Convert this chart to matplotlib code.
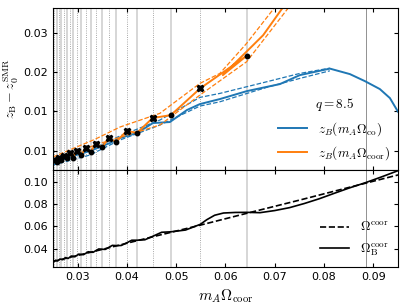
import numpy as np
import matplotlib
matplotlib.use("Agg")
import matplotlib.pyplot as plt
from matplotlib.ticker import FixedLocator, FixedFormatter

plt.rcParams['mathtext.fontset'] = 'cm'
plt.rcParams['font.size'] = 8

# extrema of z_B (x markers at maxima, dots at minima)
max_x = [0.02525, 0.02615, 0.02728, 0.02838, 0.02980, 0.03168, 0.03371, 0.03629, 0.03994, 0.04521, 0.05487]
max_z = [0.00571, 0.00609, 0.00653, 0.00698, 0.00748, 0.00805, 0.00882, 0.00985, 0.01124, 0.01372, 0.01939]
min_x = [0.02574, 0.02667, 0.02777, 0.02905, 0.03073, 0.03264, 0.03493, 0.03783, 0.04209, 0.04893, 0.06428]
min_z = [0.00532, 0.00571, 0.00603, 0.00609, 0.00666, 0.00729, 0.00813, 0.00920, 0.01092, 0.01429, 0.02561]
special_x = 0.0884

# orange solid beyond the markers
coor_tail_x = [0.05947, 0.06765, 0.07150]
coor_tail_z = [0.02193, 0.02956, 0.03466]
coor_up_x = [0.0250, 0.03351, 0.03858, 0.04669, 0.05481, 0.05886, 0.06428, 0.06982]
coor_up_z = [0.00628, 0.00966, 0.01200, 0.01462, 0.02034, 0.02225, 0.02798, 0.03466]
coor_lo_x = [0.0250, 0.03351, 0.04669, 0.05481, 0.06428, 0.07266]
coor_lo_z = [0.00513, 0.00857, 0.01239, 0.01811, 0.02447, 0.03466]

co_x = [0.0250, 0.02844, 0.03249, 0.03655, 0.03858, 0.04203, 0.04528, 0.04872, 0.05217, 0.05481,
        0.05886, 0.06434, 0.07103, 0.07509, 0.08117, 0.08523, 0.08827, 0.09131, 0.09335, 0.0950]
co_z = [0.00513, 0.00628, 0.00742, 0.00895, 0.00990, 0.01086, 0.01277, 0.01296, 0.01525, 0.01639,
        0.01735, 0.01887, 0.02021, 0.02193, 0.02317, 0.02212, 0.02078, 0.01926, 0.01754, 0.01492]
co_up_x = [0.0250, 0.03249, 0.03858, 0.04669, 0.05481, 0.05886, 0.06834, 0.07509, 0.08117]
co_up_z = [0.00570, 0.00762, 0.01029, 0.01334, 0.01767, 0.01843, 0.02065, 0.02225, 0.02326]
co_lo_x = [0.0250, 0.03249, 0.03858, 0.04669, 0.05481, 0.05886, 0.06834, 0.07509, 0.08117]
co_lo_z = [0.00475, 0.00666, 0.00952, 0.01239, 0.01601, 0.01683, 0.01958, 0.02130, 0.02275]

# bottom panel
om_x = [0.025, 0.035, 0.045, 0.055, 0.065, 0.075, 0.085, 0.095]
om_y = [0.0287, 0.0395, 0.0505, 0.0613, 0.0725, 0.0835, 0.0948, 0.1060]
omb_x = [0.0250, 0.02515, 0.0253, 0.0255, 0.0257, 0.02595, 0.0262, 0.02645, 0.0267, 0.0270, 0.0273,
         0.02755, 0.0278, 0.0281, 0.0284, 0.02875, 0.0291, 0.02945, 0.0298, 0.03025, 0.0307,
         0.0312, 0.0317, 0.03215, 0.0326, 0.03315, 0.0337, 0.0343, 0.0349, 0.0356, 0.0363,
         0.03705, 0.0378, 0.03885, 0.0399, 0.0410, 0.0421, 0.04365, 0.0452, 0.04705, 0.0489,
         0.0519, 0.0549, 0.0562, 0.0578, 0.0596, 0.0620, 0.0643, 0.0670, 0.0700, 0.0730,
         0.0760, 0.0790, 0.0820, 0.0850, 0.0884, 0.0915, 0.0950]
omb_y = [0.0289, 0.0284, 0.0290, 0.0298, 0.0295, 0.0292, 0.0300, 0.0309, 0.0306, 0.0303, 0.0313,
         0.0322, 0.0318, 0.0314, 0.0325, 0.0336, 0.0333, 0.0329, 0.0340, 0.0353, 0.0350,
         0.0348, 0.0361, 0.0374, 0.0371, 0.0369, 0.0384, 0.0399, 0.0397, 0.0395, 0.0412,
         0.0431, 0.0429, 0.0430, 0.0452, 0.0477, 0.0477, 0.0481, 0.0511, 0.0548, 0.0552,
         0.0568, 0.0619, 0.0660, 0.0700, 0.0720, 0.0725, 0.0726, 0.0723, 0.0742, 0.0768,
         0.0805, 0.0847, 0.0895, 0.0942, 0.0991, 0.1040, 0.1098]

top_ticks = [0.0075, 0.015, 0.0225, 0.03]
top_labels = ['0.01', '0.01', '0.02', '0.03']

blue = '#1f77b4'
orange = '#ff7f0e'

fig = plt.figure(figsize=(4.07, 3.05), dpi=100)
gs = fig.add_gridspec(2, 1, height_ratios=[162, 97], hspace=0)
ax1 = fig.add_subplot(gs[0])
ax2 = fig.add_subplot(gs[1], sharex=ax1)
fig.subplots_adjust(left=0.130, right=0.978, top=0.973, bottom=0.125)

for ax in (ax1, ax2):
    for x in min_x:
        ax.axvline(x, color='0.8', lw=1.1, zorder=0)
    for x in max_x:
        ax.axvline(x, color='0.55', lw=0.6, ls=':', zorder=0)
    ax.axvline(special_x, color='0.5', lw=0.6, zorder=0)
    ax.tick_params(direction='in', top=True, right=True, labelsize=8, length=3)

# top panel
ax1.plot(co_up_x, co_up_z, ls='--', color=blue, lw=0.9)
ax1.plot(co_lo_x, co_lo_z, ls='--', color=blue, lw=0.9)
ax1.plot(co_x, co_z, color=blue, lw=1.4, label=r'$z_B(m_A\Omega_{\rm co})$')

ext = sorted(zip(max_x + min_x, max_z + min_z))
ox = [p[0] for p in ext] + coor_tail_x
oz = [p[1] for p in ext] + coor_tail_z
ax1.plot(coor_up_x, coor_up_z, ls='--', color=orange, lw=0.9)
ax1.plot(coor_lo_x, coor_lo_z, ls='--', color=orange, lw=0.9)
ax1.plot(ox, oz, color=orange, lw=1.4, label=r'$z_B(m_A\Omega_{\rm coor})$')
ax1.plot(max_x, max_z, 'X', color='k', ms=4.5, ls='none', zorder=5)
ax1.plot(min_x, min_z, 'o', color='k', ms=3.2, ls='none', zorder=5)

ax1.set_ylim(0.0038, 0.0347)
ax1.yaxis.set_major_locator(FixedLocator(top_ticks))
ax1.yaxis.set_major_formatter(FixedFormatter(top_labels))
ax1.set_ylabel(r'$z_{\rm B} - z_0^{\rm SMR}$', fontsize=10)
ax1.yaxis.set_label_coords(-0.092, 0.5)
ax1.tick_params(labelbottom=False)
leg = ax1.legend(loc='lower right', frameon=False, title=r'$q = 8.5$', fontsize=9.5,
                 title_fontsize=9.5, handlelength=2.2, borderaxespad=0.2)

# bottom panel
ax2.plot(om_x, om_y, ls='--', color='k', lw=1.2, label=r'$\Omega^{\rm coor}$')
ax2.plot(omb_x, omb_y, color='k', lw=1.2, label=r'$\Omega_{\rm B}^{\rm coor}$')
ax2.set_ylim(0.0239, 0.1104)
ax2.set_yticks([0.04, 0.06, 0.08, 0.10])
ax2.set_xlim(0.025, 0.095)
ax2.set_xticks([0.03, 0.04, 0.05, 0.06, 0.07, 0.08, 0.09])
ax2.set_xlabel(r'$m_A\Omega_{\rm coor}$', fontsize=11)
ax2.legend(loc='lower right', frameon=False, fontsize=9.5, handlelength=2.2, borderaxespad=0.3)

fig.savefig('out.png', dpi=100)
